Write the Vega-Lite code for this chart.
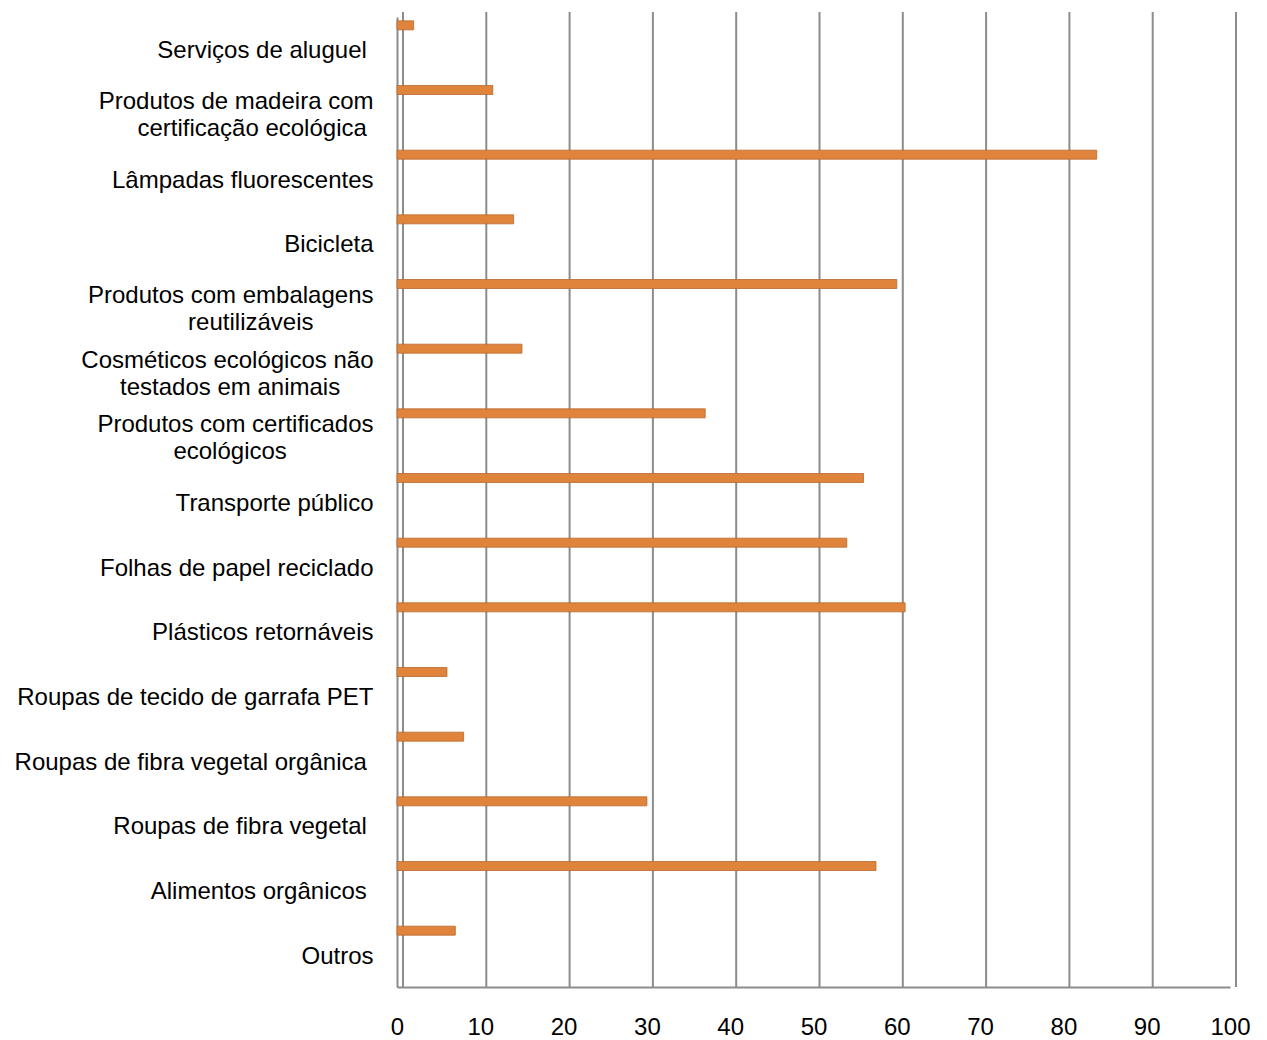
{
  "$schema": "https://vega.github.io/schema/vega-lite/v6.json",
  "width": 833,
  "height": 970,
  "autosize": "none",
  "padding": {"left": 397, "top": 17, "right": 37, "bottom": 53},
  "background": "white",
  "config": {
    "view": {"stroke": null},
    "font": "Liberation Sans"
  },
  "datasets": {
    "itens": [
      {"item": "Serviços de aluguel ", "pct": 2},
      {"item": "Produtos de madeira com\ncertificação ecológica", "pct": 11.5},
      {"item": "Lâmpadas fluorescentes", "pct": 84},
      {"item": "Bicicleta", "pct": 14},
      {"item": "Produtos com embalagens\nreutilizáveis", "pct": 60},
      {"item": "Cosméticos ecológicos não\ntestados em animais", "pct": 15},
      {"item": "Produtos com certificados\necológicos", "pct": 37},
      {"item": "Transporte público", "pct": 56},
      {"item": "Folhas de papel reciclado", "pct": 54},
      {"item": "Plásticos retornáveis", "pct": 61},
      {"item": "Roupas de tecido de garrafa PET", "pct": 6},
      {"item": "Roupas de fibra vegetal orgânica ", "pct": 8},
      {"item": "Roupas de fibra vegetal ", "pct": 30},
      {"item": "Alimentos orgânicos ", "pct": 57.5},
      {"item": "Outros", "pct": 7}
    ],
    "grade": [
      {"v": 0}, {"v": 10}, {"v": 20}, {"v": 30}, {"v": 40}, {"v": 50},
      {"v": 60}, {"v": 70}, {"v": 80}, {"v": 90}, {"v": 100}
    ]
  },
  "layer": [
    {
      "data": {"name": "grade"},
      "mark": {
        "type": "rule",
        "color": "#8C8C8C",
        "strokeWidth": 2,
        "xOffset": 6,
        "yOffset": -5,
        "y2Offset": -5
      },
      "encoding": {
        "x": {
          "field": "v",
          "type": "quantitative",
          "scale": {"domain": [0, 100], "nice": false}
        }
      }
    },
    {
      "data": {"name": "itens"},
      "mark": {
        "type": "bar",
        "height": 9,
        "yOffset": -24,
        "fill": "#E0843C",
        "stroke": "#B9682C",
        "strokeWidth": 0.8
      },
      "encoding": {
        "y": {
          "field": "item",
          "type": "nominal",
          "sort": null,
          "scale": {"paddingInner": 0, "paddingOuter": 0},
          "axis": {
            "title": null,
            "domain": true,
            "domainColor": "#8C8C8C",
            "domainWidth": 2,
            "ticks": false,
            "grid": false,
            "labelFont": "Liberation Sans",
            "labelFontSize": 24,
            "labelColor": "#000000",
            "labelPadding": 24,
            "labelLimit": 420,
            "labelLineHeight": 27,
            "labelOffset": {
              "condition": {"test": "indexof(datum.value, '\\n') >= 0", "value": -12},
              "value": 2
            },
            "labelExpr": "length(split(datum.label, '\\n')) > 1 ? [split(datum.label, '\\n')[0], pad(split(datum.label, '\\n')[1], length(split(datum.label, '\\n')[1]) + round(0.85 * (length(split(datum.label, '\\n')[0]) - length(split(datum.label, '\\n')[1]))), '\u00a0') + '\u200b'] : (test(/ $/, datum.label) ? trim(datum.label) + '\u00a0\u200b' : datum.label)"
          }
        },
        "x": {
          "field": "pct",
          "type": "quantitative",
          "scale": {"domain": [0, 100], "nice": false},
          "axis": {
            "title": null,
            "values": [0, 10, 20, 30, 40, 50, 60, 70, 80, 90, 100],
            "grid": false,
            "ticks": false,
            "domain": true,
            "domainColor": "#8C8C8C",
            "domainWidth": 2,
            "labelFont": "Liberation Sans",
            "labelFontSize": 24,
            "labelColor": "#000000",
            "labelPadding": 28,
            "labelFlush": false
          }
        }
      }
    }
  ]
}
